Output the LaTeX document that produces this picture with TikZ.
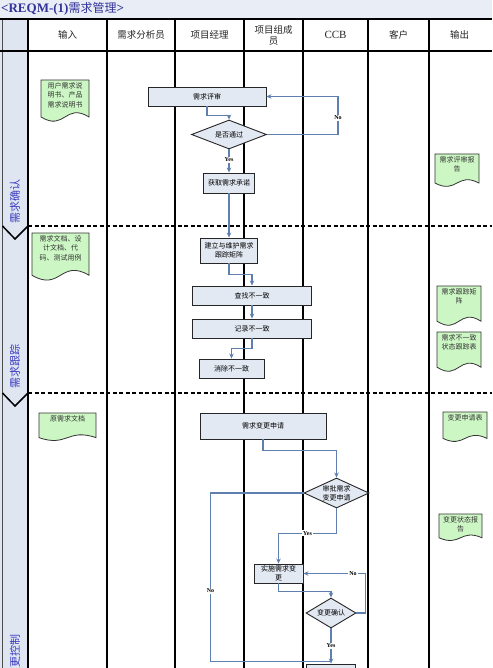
\documentclass[tikz,border=0pt]{standalone}
\usepackage{fontspec}
\setmainfont{Liberation Serif}
\newfontfamily\cjk{Noto Sans CJK SC}
\usetikzlibrary{arrows.meta,shapes.geometric,calc}
\definecolor{titlebg}{HTML}{E9EDF5}
\definecolor{lanebg}{HTML}{DFE6F2}
\definecolor{boxfill}{HTML}{E3E9F3}
\definecolor{docfill}{HTML}{CCF7C4}
\definecolor{flowc}{HTML}{5F7FAE}
\definecolor{lanetxt}{HTML}{3B3BC0}
\definecolor{titletxt}{HTML}{33339A}
\tikzset{
  proc/.style={draw=black!85,line width=0.9pt,fill=boxfill,inner sep=0pt,
    font=\cjk\fontsize{7}{9}\selectfont,align=center},
  dia/.style={diamond,draw=black!85,line width=0.9pt,fill=boxfill,inner sep=0pt,
    font=\cjk\fontsize{7}{9}\selectfont,align=center},
  docshape/.style={draw=black!80,line width=0.8pt,fill=docfill},
  doctext/.style={inner sep=0pt,font=\cjk\fontsize{7}{9.3}\selectfont,align=center,text=black!80},
  flow/.style={draw=flowc,line width=1.1pt},
  arr/.style={flow,-{Stealth[length=5pt,width=4.5pt]}},
  lbl/.style={fill=white,inner sep=1pt,font=\bfseries\fontsize{6}{6}\selectfont},
  colline/.style={line width=1.5pt,black},
  lanesep/.style={line width=1.6pt,dash pattern=on 4pt off 2.5pt},
  headtxt/.style={font=\cjk\fontsize{9.5}{11}\selectfont,align=center,text=black!85},
  lanelbl/.style={rotate=90,font=\cjk\fontsize{11}{11}\selectfont,text=lanetxt}
}
\newcommand\docnode[6]{%
  \pgfmathsetmacro\dxm{(#2+#4)/2}%
  \pgfmathsetmacro\dyb{#5-0.12*(#5-#3)}%
  \pgfmathsetmacro\damp{0.35*(#5-#3)}%
  \filldraw[docshape] (#2,#3) -- (#4,#3) -- (#4,\dyb) .. controls (\dxm,\dyb-\damp) and (\dxm,\dyb+\damp) .. (#2,\dyb) -- cycle;
  \node[doctext,anchor=north] (#1) at (\dxm,#3+2.5) {#6};}
\begin{document}
\begin{tikzpicture}[x=1pt,y=-1pt]
\useasboundingbox (0,0) rectangle (492,668);
\clip (0,0) rectangle (492,668);
\fill[white] (0,0) rectangle (492,668);
% title bar
\fill[titlebg] (0,0) rectangle (492,19);
\node[anchor=west,inner sep=0pt,text=titletxt] (title) at (1,9)
  {\fontsize{13}{13}\selectfont\bfseries <REQM-(1){\cjk\mdseries\fontsize{12}{12}\selectfont 需求管理}>};
% lane label column
\fill[lanebg] (0,19) rectangle (28,668);
\draw[line width=1pt,black!70] (2.5,19) -- (2.5,668);
% header
\draw[colline] (0,19) -- (492,19);
\draw[colline] (0,51) -- (492,51);
\foreach \x in {28,107,175,244,303,368,429} \draw[colline] (\x,19) -- (\x,668);
\node[headtxt] (h1) at (67.5,35) {输入};
\node[headtxt] (h2) at (141,35) {需求分析员};
\node[headtxt] (h3) at (209.5,35) {项目经理};
\node[headtxt] (h4) at (273.5,35) {项目组成\\员};
\node[font=\fontsize{11}{11}\selectfont,text=black!85] (h5) at (335.5,35) {CCB};
\node[headtxt] (h6) at (398.5,35) {客户};
\node[headtxt] (h7) at (459.5,35) {输出};
% lane separators
\draw[lanesep] (28,226) -- (492,226);
\draw[lanesep] (28,393) -- (492,393);
\draw[line width=1.5pt] (2.5,226) -- (15,239) -- (28,226);
\draw[line width=1.5pt] (2.5,393) -- (15,406) -- (28,393);
\node[lanelbl] (lane1) at (15,201) {需求确认};
\node[lanelbl] (lane2) at (15,366) {需求跟踪};
\node[lanelbl] (lane3) at (15,656) {变更控制};
% documents
\docnode{d1}{41}{80}{89}{122}{用户需求说\\明书、产品\\需求说明书}
\docnode{d2}{435}{154}{479}{187}{需求评审报\\告}
\docnode{d3}{32}{233}{89}{281}{需求文档、设\\计文档、代\\码、测试用例}
\docnode{d4}{437}{286}{481}{326}{需求跟踪矩\\阵}
\docnode{d5}{437}{332}{481}{372}{需求不一致\\状态跟踪表}
\docnode{d6}{39}{413}{96}{441}{原需求文档}
\docnode{d7}{443}{412}{487}{442}{变更申请表}
\docnode{d8}{439}{514}{482}{541}{变更状态报\\告}
% lane 1
\node[proc,minimum width=118,minimum height=19] (review) at (207,96.5) {需求评审};
\node[dia,minimum width=75,minimum height=29,aspect=2.5] (decide) at (229,134.5) {是否通过};
\node[proc,minimum width=51,minimum height=20] (commit) at (229,183) {获取需求承诺};
\draw[arr] (review.south) -- ++(0,9) -| (decide.north);
\draw[arr] (decide.east) -- ++(71,0) |- node[pos=0.22,lbl]{No} (review.east);
\draw[arr] (decide.south) -- node[pos=0.45,lbl]{Yes} (commit.north);
% lane 2
\node[proc,minimum width=57,minimum height=25] (trace) at (229,250.5) {建立与维护需求\\跟踪矩阵};
\node[proc,minimum width=119,minimum height=19] (find) at (252,295.5) {查找不一致};
\node[proc,minimum width=119,minimum height=19] (record) at (252,328.5) {记录不一致};
\node[proc,minimum width=65,minimum height=19] (remove) at (231.5,368.5) {消除不一致};
\draw[arr] (commit.south) -- (trace.north);
\draw[arr] (trace.south) -- ++(0,11) -| (find.north);
\draw[arr] (find.south) -- (record.north);
\draw[arr] (record.south) -- ++(0,10) -| (remove.north);
% lane 3
\node[proc,minimum width=126,minimum height=26] (change) at (263,426) {需求变更申请};
\node[dia,minimum width=65,minimum height=30,aspect=2] (approve) at (336.5,493) {审批需求\\变更申请};
\node[proc,minimum width=49,minimum height=19] (implement) at (278.5,573.5) {实施需求变\\更};
\node[dia,minimum width=50,minimum height=30,aspect=1.67] (confirm) at (331,613) {变更确认};
\node[proc,minimum width=49,minimum height=26] (final) at (331,677) {};
\draw[arr] (change.south) -- ++(0,11) -| (approve.north);
\draw[arr] (approve.south) -- ++(0,25) -| node[pos=0.25,lbl]{Yes} (implement.north);
\draw[arr] (implement.south) -- ++(0,8) -| (confirm.north);
\draw[arr] (confirm.east) -- ++(9,0) |- node[pos=0.6,lbl]{No} (implement.east);
\draw[flow] (approve.west) -- ++(-93,0) |- node[pos=0.29,lbl]{No} ([yshift=2pt]final.north);
\draw[arr] (confirm.south) -- node[pos=0.5,lbl]{Yes} (final.north);
\end{tikzpicture}
\end{document}
